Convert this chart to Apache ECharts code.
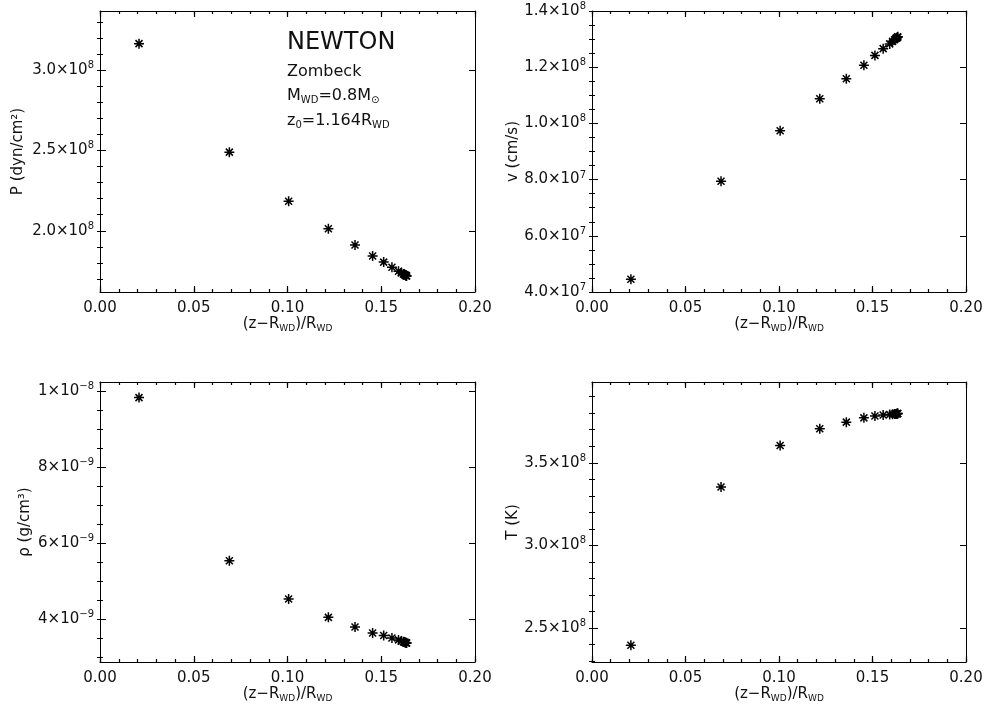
<!DOCTYPE html>
<html><head><meta charset="utf-8">
<script src="https://cdn.jsdelivr.net/npm/echarts@6/dist/echarts.min.js"></script>
<style>html,body{margin:0;padding:0;background:#fff}#c{width:986px;height:715px}</style>
</head><body><div id="c"></div>
<script>
// ---------------- data ----------------
const zRel = [0.0208, 0.0690, 0.1006, 0.1218, 0.1360, 0.1454, 0.1513, 0.1557, 0.1592, 0.1607, 0.1618, 0.1625, 0.1629, 0.1632, 0.1634, 0.1635];
const pressure = [3.164e8, 2.489e8, 2.184e8, 2.012e8, 1.911e8, 1.843e8, 1.805e8, 1.773e8, 1.748e8, 1.738e8, 1.731e8, 1.726e8, 1.723e8, 1.721e8, 1.720e8, 1.719e8];
const velocity = [0.4455e8, 0.794e8, 0.9737e8, 1.0874e8, 1.159e8, 1.207e8, 1.242e8, 1.266e8, 1.283e8, 1.292e8, 1.298e8, 1.302e8, 1.304e8, 1.306e8, 1.307e8, 1.308e8];
const density = [9.825e-9, 5.537e-9, 4.533e-9, 4.052e-9, 3.80e-9, 3.642e-9, 3.575e-9, 3.51e-9, 3.46e-9, 3.43e-9, 3.41e-9, 3.40e-9, 3.39e-9, 3.385e-9, 3.38e-9, 3.378e-9];
const temperature = [2.395e8, 3.353e8, 3.605e8, 3.706e8, 3.746e8, 3.772e8, 3.783e8, 3.789e8, 3.792e8, 3.794e8, 3.795e8, 3.796e8, 3.797e8, 3.797e8, 3.798e8, 3.798e8];

const xTickStep = 0.05;      // labelled x ticks: 0.00 0.05 0.10 0.15 0.20
const xMinorStep = 0.01;
const pTickValues = [2.0e8, 2.5e8, 3.0e8];
const pTickLabels = [['2.0×10', '8'], ['2.5×10', '8'], ['3.0×10', '8']];
const vTickValues = [4e7, 6e7, 8e7, 1.0e8, 1.2e8, 1.4e8];
const vTickLabels = [['4.0×10', '7'], ['6.0×10', '7'], ['8.0×10', '7'], ['1.0×10', '8'], ['1.2×10', '8'], ['1.4×10', '8']];
const rhoTickValues = [4e-9, 6e-9, 8e-9, 1e-8];
const rhoTickLabels = [['4×10', '−9'], ['6×10', '−9'], ['8×10', '−9'], ['1×10', '−8']];
const tTickValues = [2.5e8, 3.0e8, 3.5e8];
const tTickLabels = [['2.5×10', '8'], ['3.0×10', '8'], ['3.5×10', '8']];

const xName = '(z−R{s|WD})/R{s|WD}';
const yNames = ['P (dyn/cm²)', 'v (cm/s)', 'ρ (g/cm³)', 'T (K)'];
const annotation = ['NEWTON', 'Zombeck', '{a|M}{s|WD}{a|=0.8M}{s|⊙}', '{a|z}{s|0}{a|=1.164R}{s|WD}'];

// ---------------- layout / style ----------------
const FONT = 'DejaVu Sans';
const TXT = '#111';
const panels = [
  {rect: {left: 100, top: 11, width: 375, height: 281}, y: pressure, yMin: 1.619e8, yMax: 3.367e8, ticks: pTickValues, labels: pTickLabels, minor: 0.1e8, name: yNames[0], nameGap: 74},
  {rect: {left: 592, top: 11, width: 374, height: 281}, y: velocity, yMin: 4.0e7, yMax: 1.4e8, ticks: vTickValues, labels: vTickLabels, minor: 0.05e8, name: yNames[1], nameGap: 70},
  {rect: {left: 100, top: 382, width: 375, height: 280}, y: density, yMin: 2.879e-9, yMax: 1.0235e-8, ticks: rhoTickValues, labels: rhoTickLabels, minor: 0.5e-9, name: yNames[2], nameGap: 67},
  {rect: {left: 592, top: 382, width: 374, height: 280}, y: temperature, yMin: 2.294e8, yMax: 3.989e8, ticks: tTickValues, labels: tTickLabels, minor: 0.1e8, name: yNames[3], nameGap: 46}
];
const xMin = 0, xMax = 0.2;
const MAJOR_LEN = 6, MINOR_LEN = 3;

function minorValues(min, max, step) {
  const out = [];
  const k0 = Math.ceil(min / step - 1e-9), k1 = Math.floor(max / step + 1e-9);
  for (let k = k0; k <= k1; k++) out.push(+(k * step).toPrecision(12));
  return out;
}
function fmt(values, labels) {
  return function (v) {
    let idx = 0, best = Infinity;
    values.forEach((t, i) => { const d = Math.abs(t - v); if (d < best) { best = d; idx = i; } });
    const l = labels[idx];
    return '{m|' + l[0] + '}{e|' + l[1] + '}';
  };
}
const labelRich = {
  m: {fontSize: 15, fontFamily: FONT, color: TXT},
  e: {fontSize: 10, fontFamily: FONT, color: TXT, padding: [0, 0, 9, 0]}
};
function axis(gi, pos, min, max, opts) {
  return Object.assign({
    gridIndex: gi, type: 'value', min: min, max: max, position: pos,
    splitLine: {show: false},
    axisLine: {show: true, onZero: false, lineStyle: {color: '#000', width: 1}},
    axisLabel: {show: false},
    axisTick: {show: false}
  }, opts);
}
function ytick(len, values) {
  return {show: true, inside: true, length: len, customValues: values, lineStyle: {color: '#000', width: 1}};
}
function xtick(len, values) {
  return {show: true, inside: true, length: len, customValues: values, lineStyle: {color: '#000', width: 1.2}};
}

const xMajorTicks = minorValues(xMin, xMax, xTickStep);
const xMinorTicks = minorValues(xMin, xMax, xMinorStep);

const grids = [], xAxes = [], yAxes = [], series = [];
panels.forEach((p, i) => {
  const gMain = grids.length; grids.push(Object.assign({containLabel: false}, p.rect));
  const gMinor = grids.length; grids.push(Object.assign({containLabel: false}, p.rect));
  const yMinors = minorValues(p.yMin, p.yMax, p.minor);
  const xMainIdx = xAxes.length;
  xAxes.push(axis(gMain, 'bottom', xMin, xMax, {
    interval: xTickStep,
    axisTick: xtick(MAJOR_LEN, xMajorTicks),
    axisLabel: {show: true, formatter: v => v.toFixed(2), margin: 9, color: TXT, fontFamily: FONT, fontSize: 15},
    name: xName, nameLocation: 'middle', nameGap: 23,
    nameTextStyle: {color: TXT, fontFamily: FONT, fontSize: 15, rich: {s: {fontSize: 9, fontFamily: FONT, color: TXT, padding: [8, 0, 0, 0]}}}
  }));
  xAxes.push(axis(gMain, 'top', xMin, xMax, {interval: xTickStep, axisTick: xtick(MAJOR_LEN, xMajorTicks)}));
  xAxes.push(axis(gMinor, 'bottom', xMin, xMax, {interval: xMinorStep, axisLine: {show: false}, axisTick: xtick(MINOR_LEN, xMinorTicks)}));
  xAxes.push(axis(gMinor, 'top', xMin, xMax, {interval: xMinorStep, axisLine: {show: false}, axisTick: xtick(MINOR_LEN, xMinorTicks)}));
  const yMainIdx = yAxes.length;
  yAxes.push(axis(gMain, 'left', p.yMin, p.yMax, {
    axisTick: ytick(MAJOR_LEN, p.ticks),
    axisLabel: {show: true, customValues: p.ticks, formatter: fmt(p.ticks, p.labels), margin: 6, color: TXT, fontFamily: FONT, fontSize: 15, rich: labelRich},
    name: p.name, nameLocation: 'middle', nameGap: p.nameGap,
    nameTextStyle: {color: TXT, fontFamily: FONT, fontSize: 15}
  }));
  yAxes.push(axis(gMain, 'right', p.yMin, p.yMax, {axisTick: ytick(MAJOR_LEN, p.ticks)}));
  yAxes.push(axis(gMinor, 'left', p.yMin, p.yMax, {axisLine: {show: false}, axisTick: ytick(MINOR_LEN, yMinors)}));
  yAxes.push(axis(gMinor, 'right', p.yMin, p.yMax, {axisLine: {show: false}, axisTick: ytick(MINOR_LEN, yMinors)}));
  series.push({
    type: 'scatter', xAxisIndex: xMainIdx, yAxisIndex: yMainIdx,
    data: zRel.map((x, k) => [x, p.y[k]]),
    symbol: 'path://M0,-10L0,10M-10,0L10,0M-7,-7L7,7M-7,7L7,-7',
    symbolSize: 10,
    itemStyle: {color: 'rgba(0,0,0,0)', borderColor: '#000', borderWidth: 1.5, opacity: 1},
    emphasis: {disabled: true},
    silent: true
  });
});

const annRich = {
  a: {fontSize: 16, fontFamily: FONT, color: TXT},
  s: {fontSize: 10, fontFamily: FONT, color: TXT, padding: [9, 0, 0, 0]}
};
const graphic = [
  {type: 'text', left: 287, top: 31, style: {text: annotation[0], font: '24px "' + FONT + '"', fill: TXT}},
  {type: 'text', left: 287, top: 64, style: {text: annotation[1], font: '16px "' + FONT + '"', fill: TXT}},
  {type: 'text', left: 287, top: 88, style: {text: annotation[2], rich: annRich, font: '16px "' + FONT + '"', fill: TXT}},
  {type: 'text', left: 287, top: 113, style: {text: annotation[3], rich: annRich, font: '16px "' + FONT + '"', fill: TXT}}
];

const chart = echarts.init(document.getElementById('c'), null, {renderer: 'canvas'});
chart.setOption({
  backgroundColor: '#fff',
  animation: false,
  grid: grids,
  xAxis: xAxes,
  yAxis: yAxes,
  series: series,
  graphic: graphic
});
</script>
</body></html>
